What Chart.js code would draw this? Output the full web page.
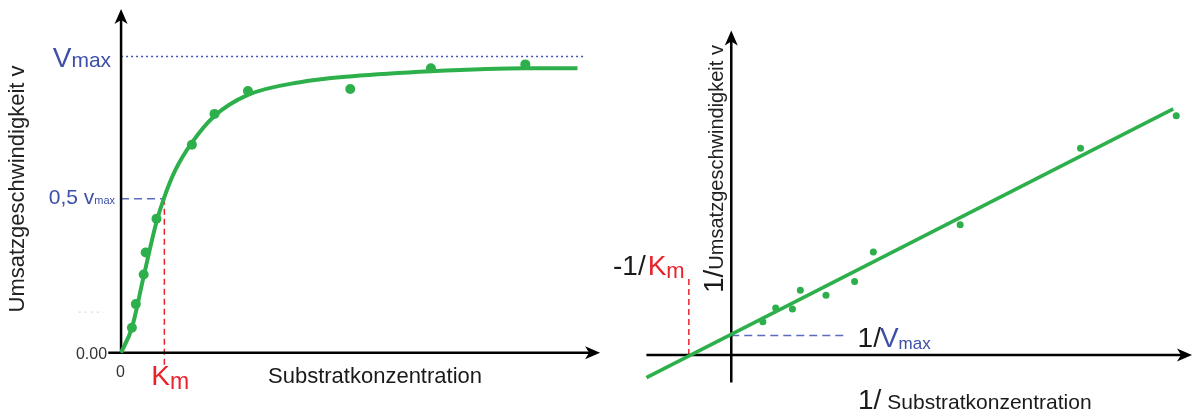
<!DOCTYPE html>
<html>
<head>
<meta charset="utf-8">
<title>Michaelis-Menten / Lineweaver-Burk</title>
<script src="https://cdn.jsdelivr.net/npm/chart.js@4.4.1/dist/chart.umd.min.js"></script>
<style>
    html, body { margin: 0; padding: 0; background: #fff; }
    #wrap { position: relative; width: 1197px; height: 414px; overflow: hidden; }
    #mm { position: absolute; left: 0; top: 0; }
    #lb { position: absolute; left: 600px; top: 0; }
</style>
</head>
<body>
<div id="wrap">
    <canvas id="mm" width="610" height="414"></canvas>
    <canvas id="lb" width="597" height="414"></canvas>
</div>
<script>
// --- Michaelis-Menten plot (left), v over [S] ---
const mmCurveX = [0, 0.22, 0.46, 0.72, 0.88, 1.10, 1.44, 1.90, 2.58, 3.64, 4.70, 6.30, 8.24, 9.28];
const mmCurveY = [0, 0.084, 0.258, 0.441, 0.525, 0.615, 0.709, 0.799, 0.870, 0.913, 0.933, 0.950, 0.960, 0.960];
const mmPointX = [0.22, 0.30, 0.46, 0.50, 0.72, 1.44, 1.90, 2.58, 4.66, 6.30, 8.22];
const mmPointY = [0.084, 0.164, 0.264, 0.338, 0.452, 0.702, 0.806, 0.883, 0.890, 0.960, 0.973];
const mmVmax = 1.0;
const mmHalf = 0.52;
const mmKm = 0.88;
const mmTickY = ['0.00'];
const mmTickX = ['0'];

// --- Lineweaver-Burk plot (right), 1/v over 1/[S] ---
const lbLineX = [-1.72, 8.96];
const lbLineY = [-0.46, 5.02];
const lbPointX = [0.64, 0.90, 1.24, 1.40, 1.92, 2.50, 2.88, 4.64, 7.08, 9.02];
const lbPointY = [0.68, 0.96, 0.94, 1.32, 1.22, 1.50, 2.10, 2.66, 4.22, 4.88];
const lbInterceptY = 0.40;   // 1/Vmax
const lbInterceptX = -0.86;  // -1/Km

const FONT = '"Liberation Sans", Arial, sans-serif';
const GREEN = '#2db04b';
const BLUE = '#3d4fa8';
const BLUE_DASH = '#5b6cc0';
const RED = '#e8232c';
const INK = '#1a1a1a';

function zip(xs, ys) {
    return xs.map((x, i) => ({ x, y: ys[i] }));
}

/**
 * Black axis line with a filled arrow head at (x2, y2)
 */
function arrowLine(ctx, x1, y1, x2, y2) {
    const ang = Math.atan2(y2 - y1, x2 - x1);
    ctx.save();
    ctx.strokeStyle = '#000';
    ctx.lineWidth = 2.5;
    ctx.beginPath();
    ctx.moveTo(x1, y1);
    ctx.lineTo(x2 - Math.cos(ang) * 8, y2 - Math.sin(ang) * 8);
    ctx.stroke();
    ctx.translate(x2, y2);
    ctx.rotate(ang);
    ctx.fillStyle = '#000';
    ctx.beginPath();
    ctx.moveTo(0, 0);
    ctx.lineTo(-15, -6.5);
    ctx.lineTo(-11, 0);
    ctx.lineTo(-15, 6.5);
    ctx.closePath();
    ctx.fill();
    ctx.restore();
}

function dashLine(ctx, x1, y1, x2, y2, color, dash, width) {
    ctx.save();
    ctx.strokeStyle = color;
    ctx.lineWidth = width;
    ctx.setLineDash(dash);
    ctx.beginPath();
    ctx.moveTo(x1, y1);
    ctx.lineTo(x2, y2);
    ctx.stroke();
    ctx.restore();
}

/**
 * Draw text runs one after another (for subscripts like V_max)
 * parts: [{ t, size, color, dx, dy }]
 */
function runs(ctx, x, y, parts, align = 'left') {
    ctx.save();
    ctx.textBaseline = 'alphabetic';
    ctx.textAlign = 'left';
    let total = 0;
    parts.forEach(p => {
        ctx.font = `${p.size}px ${FONT}`;
        total += ctx.measureText(p.t).width + (p.dx || 0);
    });
    let cx = align === 'right' ? x - total : x;
    parts.forEach(p => {
        ctx.font = `${p.size}px ${FONT}`;
        cx += p.dx || 0;
        ctx.fillStyle = p.color;
        ctx.fillText(p.t, cx, y + (p.dy || 0));
        cx += ctx.measureText(p.t).width;
    });
    ctx.restore();
}

const mmDecor = {
    id: 'mmDecor',
    beforeDatasetsDraw(chart) {
        const { ctx, scales } = chart;
        const X = v => scales.x.getPixelForValue(v);
        const Y = v => scales.y.getPixelForValue(v);

        dashLine(ctx, X(0), Y(mmVmax), X(9.44), Y(mmVmax), '#4456b5', [2, 3], 1.5);
        dashLine(ctx, X(0), Y(mmHalf), X(mmKm), Y(mmHalf), BLUE_DASH, [8, 5], 1.5);
        dashLine(ctx, X(mmKm), Y(mmHalf), X(mmKm), Y(-0.05), RED, [6, 4], 1.5);
        dashLine(ctx, X(-0.86), Y(0.137), X(-0.36), Y(0.137), '#cfcfcf', [2, 4], 1);

        arrowLine(ctx, X(-0.26), Y(0), X(9.74), Y(0));
        arrowLine(ctx, X(0), Y(0), X(0), Y(1.16));
    },
    afterDraw(chart) {
        const { ctx, scales } = chart;
        const X = v => scales.x.getPixelForValue(v);
        const Y = v => scales.y.getPixelForValue(v);

        runs(ctx, X(0) - 10, Y(mmVmax) + 11, [
            { t: 'V', size: 28, color: BLUE },
            { t: 'max', size: 21, color: BLUE }
        ], 'right');
        runs(ctx, X(0) - 6, Y(mmHalf) + 5, [
            { t: '0,5 v', size: 21, color: BLUE },
            { t: 'max', size: 11, color: BLUE }
        ], 'right');
        runs(ctx, X(0) - 14, Y(0) + 6, [{ t: mmTickY[0], size: 16, color: '#333' }], 'right');
        runs(ctx, X(0) - 5, Y(0) + 24, [{ t: mmTickX[0], size: 16, color: '#333' }]);
        runs(ctx, X(mmKm) - 13, Y(0) + 32, [
            { t: 'K', size: 28, color: RED },
            { t: 'm', size: 23, color: RED, dy: 4 }
        ]);
        runs(ctx, 268, Y(0) + 30, [{ t: 'Substratkonzentration', size: 22, color: INK }]);

        ctx.save();
        ctx.translate(24, 189);
        ctx.rotate(-Math.PI / 2);
        ctx.font = `22px ${FONT}`;
        ctx.fillStyle = '#222';
        ctx.textAlign = 'center';
        ctx.fillText('Umsatzgeschwindigkeit v', 0, 0);
        ctx.restore();
    }
};

const lbDecor = {
    id: 'lbDecor',
    beforeDatasetsDraw(chart) {
        const { ctx, scales } = chart;
        const X = v => scales.x.getPixelForValue(v);
        const Y = v => scales.y.getPixelForValue(v);

        dashLine(ctx, X(lbInterceptX), Y(0), X(lbInterceptX), Y(1.62), RED, [6, 4], 1.5);
        dashLine(ctx, X(0), Y(lbInterceptY), X(2.28), Y(lbInterceptY), BLUE_DASH, [8, 5], 1.5);

        arrowLine(ctx, X(-1.72), Y(0), X(9.34), Y(0));
        arrowLine(ctx, X(0), Y(-0.56), X(0), Y(6.62));
    },
    afterDraw(chart) {
        const { ctx, scales } = chart;
        const X = v => scales.x.getPixelForValue(v);
        const Y = v => scales.y.getPixelForValue(v);

        runs(ctx, 13, 275, [
            { t: '-1/', size: 28, color: INK },
            { t: 'K', size: 28, color: RED, dx: 2 },
            { t: 'm', size: 22, color: RED, dy: 3 }
        ]);
        runs(ctx, X(2.56), Y(lbInterceptY) + 12, [
            { t: '1/', size: 28, color: INK },
            { t: 'V', size: 28, color: BLUE, dx: -1 },
            { t: 'max', size: 17, color: BLUE, dy: 2 }
        ]);
        runs(ctx, 258, 409, [
            { t: '1/', size: 28, color: INK },
            { t: 'Substratkonzentration', size: 21, color: INK, dx: 6 }
        ]);

        ctx.save();
        ctx.translate(X(0) - 8, 293);
        ctx.rotate(-Math.PI / 2);
        runs(ctx, 0, 0, [
            { t: '1/', size: 28, color: INK },
            { t: 'Umsatzgeschwindigkeit v', size: 20, color: '#222' }
        ]);
        ctx.restore();
    }
};

const baseOptions = (xr, yr, padding) => ({
    responsive: false,
    animation: false,
    events: [],
    layout: { padding },
    plugins: { legend: { display: false }, tooltip: { enabled: false } },
    scales: {
        x: { type: 'linear', display: false, min: xr[0], max: xr[1] },
        y: { type: 'linear', display: false, min: yr[0], max: yr[1] }
    }
});

new Chart(document.getElementById('mm'), {
    type: 'scatter',
    data: {
        datasets: [
            {
                data: zip(mmCurveX, mmCurveY),
                showLine: true,
                borderColor: GREEN,
                borderWidth: 4,
                pointRadius: 0,
                cubicInterpolationMode: 'monotone',
                order: 2
            },
            {
                data: zip(mmPointX, mmPointY),
                backgroundColor: GREEN,
                borderWidth: 0,
                pointRadius: 5,
                order: 1
            }
        ]
    },
    options: baseOptions([-2.36, 9.84], [-0.19, 1.16], { top: 9, bottom: 2, left: 0, right: 0 }),
    plugins: [mmDecor]
});

new Chart(document.getElementById('lb'), {
    type: 'scatter',
    data: {
        datasets: [
            {
                data: zip(lbLineX, lbLineY),
                showLine: true,
                borderColor: GREEN,
                borderWidth: 3.5,
                pointRadius: 0,
                order: 2
            },
            {
                data: zip(lbPointX, lbPointY),
                backgroundColor: GREEN,
                borderWidth: 0,
                pointRadius: 3.5,
                order: 1
            }
        ]
    },
    options: baseOptions([-2.58, 9.36], [-1.12, 7.16], 0),
    plugins: [lbDecor]
});
</script>
</body>
</html>
